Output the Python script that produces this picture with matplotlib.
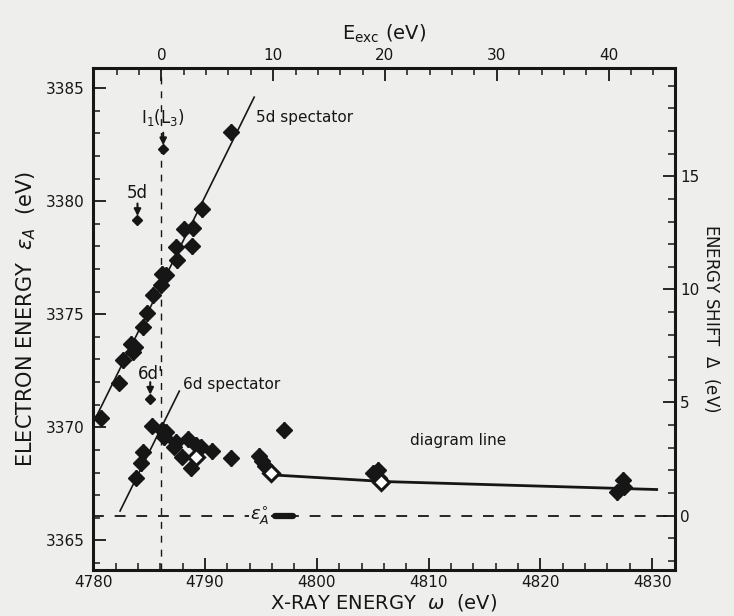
import matplotlib.pyplot as plt

# reference energies
W0 = 4786.1      # threshold, E_exc = 0
E0 = 3366.1      # diagram line energy eps_A^0, shift = 0

# filled points: x-ray energy / electron energy
w_fill = [4792.33, 4789.69, 4788.90, 4788.11, 4788.81, 4787.40, 4787.49, 4786.52,
          4786.17, 4786.08, 4785.37, 4784.85, 4784.41, 4783.70, 4783.52, 4783.35,
          4782.64, 4782.29, 4780.70,
          4785.29, 4786.17, 4786.52, 4786.34, 4787.40, 4787.22, 4788.46, 4789.16,
          4789.60, 4787.93, 4788.72, 4790.66, 4792.33, 4794.80, 4795.07, 4795.33,
          4797.09, 4784.49, 4784.23, 4783.79, 4805.02, 4805.46, 4805.55,
          4826.87, 4827.40, 4827.49]
e_fill = [3383.06, 3379.66, 3378.82, 3378.77, 3378.02, 3377.98, 3377.41, 3376.74,
          3376.79, 3376.30, 3375.86, 3375.07, 3374.45, 3373.57, 3373.34, 3373.70,
          3372.99, 3371.98, 3370.43,
          3370.08, 3369.90, 3369.81, 3369.59, 3369.37, 3369.15, 3369.50, 3369.24,
          3369.15, 3368.71, 3368.18, 3368.97, 3368.66, 3368.75, 3368.49, 3368.27,
          3369.90, 3368.93, 3368.44, 3367.78, 3368.00, 3368.13, 3367.78,
          3367.12, 3367.69, 3367.38]

# open points
w_open = [4789.16, 4795.86, 4805.73]
e_open = [3368.71, 3368.00, 3367.60]

# marked single points (5d, I1(L3), 6d')
w_mark = [4783.96, 4786.26, 4785.10]
e_mark = [3379.17, 3382.30, 3371.27]
lab_mark = ['5d', 'I$_1$(L$_3$)', "6d'"]
lab_up = [1.2, 1.4, 1.1]

# lines
w_5d = [4780.0, 4794.4]
off_5d = 1409.8
w_6d = [4782.4, 4787.7]
off_6d = 1416.1
w_diag = [4795.9, 4806.2, 4830.4]
e_diag = [3367.90, 3367.60, 3367.25]

bg = '#eeeeec'
ink = '#161616'

fig = plt.figure(figsize=(7.34, 6.16), dpi=100, facecolor=bg)
ax = fig.add_axes([0.127, 0.075, 0.792, 0.815], facecolor=bg)

ax.set_xlim(4780, 4832)
ax.set_ylim(3363.7, 3385.9)

# dashed reference lines
ax.axvline(W0, color=ink, ls=(0, (5, 5)), lw=1.0)
ax.axhline(E0, color=ink, ls=(0, (6, 6)), lw=1.3)

# spectator lines (slope 1) and diagram line
ax.plot(w_5d, [w - off_5d for w in w_5d], color=ink, lw=1.2)
ax.plot(w_6d, [w - off_6d for w in w_6d], color=ink, lw=1.2)
ax.plot(w_diag, e_diag, color=ink, lw=2.0)

ax.errorbar(w_fill, e_fill, yerr=0.35, fmt='D', ms=8, color=ink, mfc=ink,
            mec=ink, elinewidth=1.8, capsize=0)
ax.errorbar(w_open, e_open, yerr=0.35, fmt='D', ms=8, color=ink, mfc='white',
            mec=ink, mew=2.2, elinewidth=1.8, capsize=0)

# arrows pointing at single points
for w, e, t, up in zip(w_mark, e_mark, lab_mark, lab_up):
    ax.plot([w], [e], 'D', ms=5, color=ink)
    ax.annotate('', xy=(w, e + 0.05), xytext=(w, e + 0.85),
                arrowprops=dict(arrowstyle='-|>', color=ink, lw=1.5,
                                mutation_scale=10))
    ax.text(w, e + up, t, ha='center', va='center', fontsize=12, color=ink)

# eps_A^0 marker
ax.plot([4796.3, 4797.9], [E0, E0], color=ink, lw=4.5, solid_capstyle='round')
ax.text(4795.8, E0, r'$\epsilon_A^{\circ}$', ha='right', va='center',
        fontsize=13, color=ink,
        bbox=dict(facecolor=bg, edgecolor='none', pad=1))

ax.text(4794.6, 3383.7, '5d spectator', fontsize=11, color=ink, va='center')
ax.text(4788.0, 3371.9, '6d spectator', fontsize=11, color=ink, va='center')
ax.text(4808.3, 3369.4, 'diagram line', fontsize=11, color=ink, va='center')

ax.set_xticks([4780, 4790, 4800, 4810, 4820, 4830])
ax.set_xticks(range(4780, 4833, 2), minor=True)
ax.set_yticks([3365, 3370, 3375, 3380, 3385])
ax.set_yticks(range(3364, 3386), minor=True)
ax.tick_params(which='both', direction='in', color=ink, labelcolor=ink,
               labelsize=11)
ax.tick_params(which='major', length=9, width=1.3)
ax.tick_params(which='minor', length=5, width=1.1)
ax.tick_params(axis='y', pad=6)
for s in ax.spines.values():
    s.set_linewidth(2.2)
    s.set_color(ink)

top = ax.secondary_xaxis('top', functions=(lambda w: w - W0, lambda x: x + W0))
top.set_xticks([0, 10, 20, 30, 40])
top.set_xticks(range(-6, 46, 2), minor=True)
top.tick_params(which='both', direction='in', color=ink, labelcolor=ink,
                labelsize=11)
top.tick_params(which='major', length=9, width=1.3)
top.tick_params(which='minor', length=5, width=1.1)
top.set_xlabel(r'E$_{\rm exc}$ (eV)', fontsize=14, color=ink, labelpad=6)

right = ax.secondary_yaxis('right', functions=(lambda e: e - E0, lambda d: d + E0))
right.set_yticks([0, 5, 10, 15])
right.set_yticks(range(-2, 20), minor=True)
right.tick_params(which='both', direction='in', color=ink, labelcolor=ink,
                  labelsize=11, pad=4)
right.tick_params(which='major', length=9, width=1.3)
right.tick_params(which='minor', length=5, width=1.1)
right.set_ylabel(r'ENERGY SHIFT  $\Delta$  (eV)', fontsize=12, color=ink,
                 rotation=-90, labelpad=16)

ax.set_xlabel(r'X-RAY ENERGY  $\omega$  (eV)', fontsize=14, color=ink, labelpad=2)
ax.set_ylabel(r'ELECTRON ENERGY  $\epsilon_A$  (eV)', fontsize=15, color=ink,
              labelpad=6)

fig.savefig('out.png', dpi=100, facecolor=bg)
